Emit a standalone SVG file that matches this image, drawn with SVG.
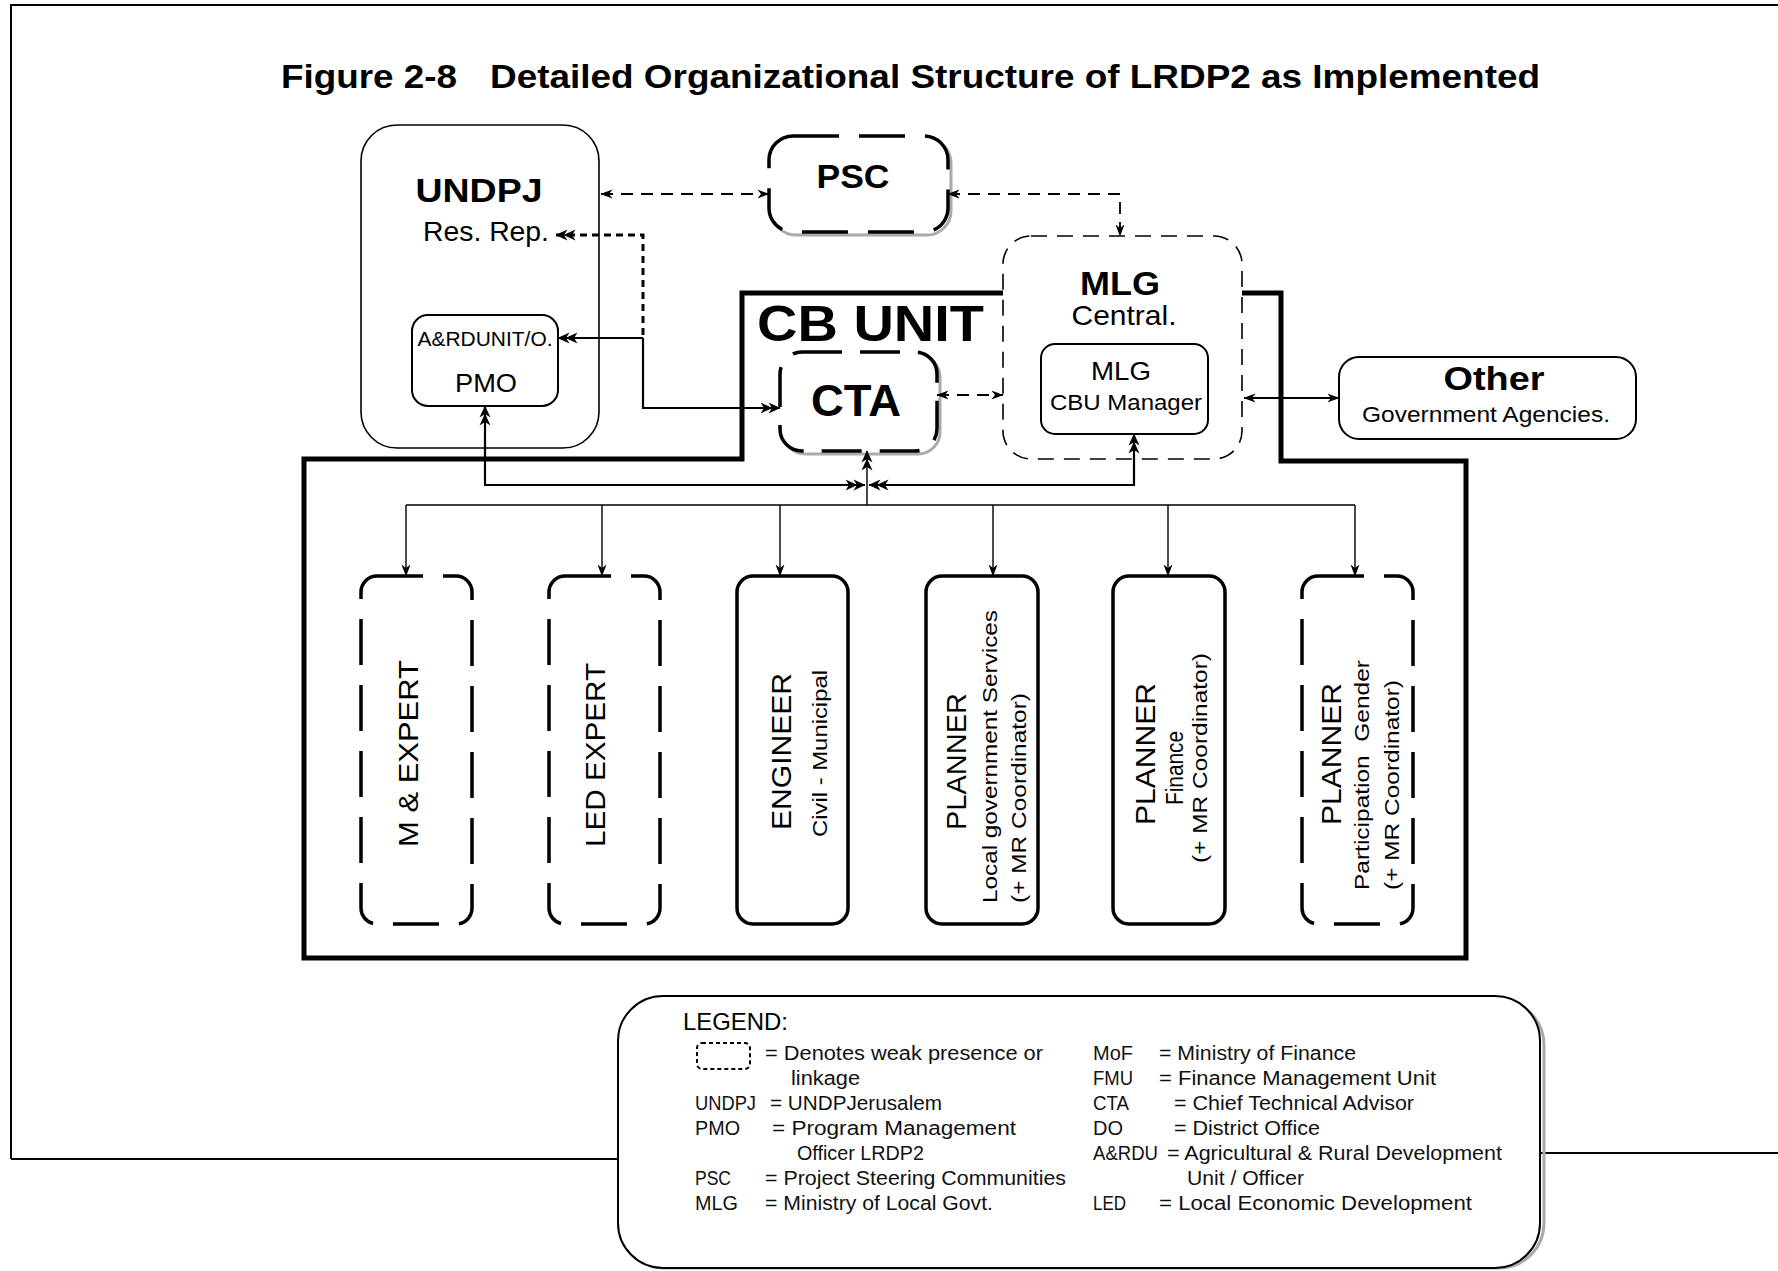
<svg xmlns="http://www.w3.org/2000/svg" width="1778" height="1271" viewBox="0 0 1778 1271">
<defs>
<style>
.b{font-family:"Liberation Sans",Arial,sans-serif;font-weight:bold;fill:#000}
.r{font-family:"Liberation Sans",Arial,sans-serif;fill:#000}
.lg{font-family:"Liberation Sans",Arial,sans-serif;font-size:20px;fill:#111}
.thin{fill:#fff;stroke:#000;stroke-width:1.6}
.solid{fill:#fff;stroke:#000;stroke-width:3.5}
.weak{fill:#fff;stroke:#000;stroke-width:3.5;stroke-dasharray:46 20}
.weakthin{fill:#fff;stroke:#000;stroke-width:1.6;stroke-dasharray:16 10}
.shadow{fill:none;stroke:#aaa;stroke-width:3}
.c{fill:none;stroke:#000;stroke-width:2.2}
.cd{fill:none;stroke:#000;stroke-width:1.8;stroke-dasharray:12 8}
.cdot{fill:none;stroke:#000;stroke-width:3;stroke-dasharray:7 5}
.cs{fill:none;stroke:#000;stroke-width:1.4}
</style>
<marker id="a1" viewBox="0 0 12 10" refX="11.5" refY="5" markerWidth="12" markerHeight="10" markerUnits="userSpaceOnUse" orient="auto-start-reverse">
<path d="M0,0.5 L12,5 L0,9.5 L3.5,5 z" fill="#000" stroke="none"/>
</marker>
<marker id="a2" viewBox="0 0 20 12" refX="19.5" refY="6" markerWidth="20" markerHeight="12" markerUnits="userSpaceOnUse" orient="auto-start-reverse">
<path d="M8,0.5 L20,6 L8,11.5 L11.5,6 z M0,0.5 L12,6 L0,11.5 L3.5,6 z" fill="#000" stroke="none"/>
</marker>
</defs>
<rect x="0" y="0" width="1778" height="1271" fill="#fff"/>

<g id="frame" fill="none" stroke="#000" stroke-width="2">
<path d="M11,1159 L11,5 L1778,5"/>
<path d="M11,1159 L618,1159"/>
<path d="M1540,1153 L1778,1153"/>
</g>

<g id="title">
<text class="b" x="281" y="88" font-size="33" textLength="176" lengthAdjust="spacingAndGlyphs">Figure 2-8</text>
<text class="b" x="490" y="88" font-size="33" textLength="1050" lengthAdjust="spacingAndGlyphs">Detailed Organizational Structure of LRDP2 as Implemented</text>
</g>

<g id="cbunit">
<path d="M1003,293 L742,293 L742,459 L304,459 L304,958 L1466,958 L1466,461 L1281,461 L1281,293 L1242,293" fill="none" stroke="#000" stroke-width="5"/>
<text class="b" x="757" y="341" font-size="50" textLength="227" lengthAdjust="spacingAndGlyphs">CB UNIT</text>
</g>

<g id="undpj">
<rect class="thin" x="361" y="125" width="238" height="323" rx="36"/>
<text class="b" x="479" y="202" font-size="33" text-anchor="middle" textLength="127" lengthAdjust="spacingAndGlyphs">UNDPJ</text>
<text class="r" x="423" y="241" font-size="28" textLength="126" lengthAdjust="spacingAndGlyphs">Res. Rep.</text>
</g>

<g id="pmo">
<rect x="412" y="315" width="146" height="91" rx="16" fill="#fff" stroke="#000" stroke-width="2"/>
<text class="r" x="485" y="346" font-size="21" text-anchor="middle" textLength="135" lengthAdjust="spacingAndGlyphs">A&amp;RDUNIT/O.</text>
<text class="r" x="486" y="392" font-size="25" text-anchor="middle" textLength="62" lengthAdjust="spacingAndGlyphs">PMO</text>
</g>

<g id="psc">
<rect class="shadow" x="772" y="139" width="179" height="96" rx="24"/>
<rect class="weak" x="769" y="136" width="179" height="96" rx="24"/>
<text class="b" x="853" y="188" font-size="33" text-anchor="middle" textLength="73" lengthAdjust="spacingAndGlyphs">PSC</text>
</g>

<g id="mlg">
<rect class="weakthin" x="1003" y="236" width="239" height="223" rx="28"/>
<text class="b" x="1120" y="295" font-size="33" text-anchor="middle" textLength="80" lengthAdjust="spacingAndGlyphs">MLG</text>
<text class="r" x="1124" y="325" font-size="28" text-anchor="middle" textLength="105" lengthAdjust="spacingAndGlyphs">Central.</text>
</g>

<g id="cbu">
<rect x="1041" y="344" width="167" height="90" rx="14" fill="#fff" stroke="#000" stroke-width="2"/>
<text class="r" x="1121" y="380" font-size="26" text-anchor="middle" textLength="60" lengthAdjust="spacingAndGlyphs">MLG</text>
<text class="r" x="1126" y="410" font-size="22" text-anchor="middle" textLength="152" lengthAdjust="spacingAndGlyphs">CBU Manager</text>
</g>

<g id="cta">
<rect class="shadow" x="783" y="355" width="157" height="99" rx="22"/>
<rect class="weak" x="780" y="352" width="157" height="99" rx="22" style="stroke-dasharray:40 18"/>
<text class="b" x="856" y="416" font-size="44" text-anchor="middle" textLength="90" lengthAdjust="spacingAndGlyphs">CTA</text>
</g>

<g id="other">
<rect x="1339" y="357" width="297" height="82" rx="20" fill="#fff" stroke="#000" stroke-width="2"/>
<text class="b" x="1494" y="390" font-size="34" text-anchor="middle" textLength="101" lengthAdjust="spacingAndGlyphs">Other</text>
<text class="r" x="1486" y="422" font-size="22" text-anchor="middle" textLength="248" lengthAdjust="spacingAndGlyphs">Government Agencies.</text>
</g>

<g id="connectors">
<path class="cd" d="M601,194 H769" marker-start="url(#a1)" marker-end="url(#a1)"/>
<path class="cd" d="M948,194 H1120 V236" marker-start="url(#a1)" marker-end="url(#a1)"/>
<path class="cdot" d="M556,235 H643 V338" marker-start="url(#a2)"/>
<path class="c" d="M643,338 H558" marker-end="url(#a2)"/>
<path class="c" d="M643,338 V408 H780" marker-end="url(#a2)"/>
<path class="cd" d="M937,395 H1003" marker-start="url(#a1)" marker-end="url(#a1)"/>
<path class="c" d="M1244,398 H1339" marker-start="url(#a1)" marker-end="url(#a1)"/>
<path class="c" d="M485,406 V485 H865" marker-start="url(#a2)" marker-end="url(#a2)"/>
<path class="c" d="M1134,434 V485 H869" marker-start="url(#a2)" marker-end="url(#a2)"/>
<path class="cs" d="M867,451 V505" marker-start="url(#a2)"/>
<path class="cs" d="M406,505 H1355"/>
<path class="cs" d="M406,505 V576" marker-end="url(#a1)"/>
<path class="cs" d="M602,505 V576" marker-end="url(#a1)"/>
<path class="cs" d="M780,505 V576" marker-end="url(#a1)"/>
<path class="cs" d="M993,505 V576" marker-end="url(#a1)"/>
<path class="cs" d="M1168,505 V576" marker-end="url(#a1)"/>
<path class="cs" d="M1355,505 V576" marker-end="url(#a1)"/>
</g>

<g id="mexpert">
<rect class="weak" x="361" y="576" width="111" height="348" rx="16"/>
<text class="r" transform="translate(418,847) rotate(-90)" font-size="28" textLength="187" lengthAdjust="spacingAndGlyphs">M &amp; EXPERT</text>
</g>
<g id="ledexpert">
<rect class="weak" x="549" y="576" width="111" height="348" rx="16"/>
<text class="r" transform="translate(605,847) rotate(-90)" font-size="28" textLength="184" lengthAdjust="spacingAndGlyphs">LED EXPERT</text>
</g>
<g id="engineer">
<rect class="solid" x="737" y="576" width="111" height="348" rx="16"/>
<text class="r" transform="translate(791,830) rotate(-90)" font-size="28" textLength="157" lengthAdjust="spacingAndGlyphs">ENGINEER</text>
<text class="r" transform="translate(827,837) rotate(-90)" font-size="21" textLength="167" lengthAdjust="spacingAndGlyphs">Civil - Municipal</text>
</g>
<g id="planner-lgs">
<rect class="solid" x="926" y="576" width="112" height="348" rx="16"/>
<text class="r" transform="translate(966,830) rotate(-90)" font-size="28" textLength="137" lengthAdjust="spacingAndGlyphs">PLANNER</text>
<text class="r" transform="translate(997,903) rotate(-90)" font-size="21" textLength="293" lengthAdjust="spacingAndGlyphs">Local government Services</text>
<text class="r" transform="translate(1026,903) rotate(-90)" font-size="21" textLength="210" lengthAdjust="spacingAndGlyphs">(+ MR Coordinator)</text>
</g>
<g id="planner-fin">
<rect class="solid" x="1113" y="576" width="112" height="348" rx="16"/>
<text class="r" transform="translate(1155,825) rotate(-90)" font-size="28" textLength="142" lengthAdjust="spacingAndGlyphs">PLANNER</text>
<text class="r" transform="translate(1183,805) rotate(-90)" font-size="23" textLength="74" lengthAdjust="spacingAndGlyphs">Finance</text>
<text class="r" transform="translate(1207,863) rotate(-90)" font-size="21" textLength="210" lengthAdjust="spacingAndGlyphs">(+ MR Coordinator)</text>
</g>
<g id="planner-part">
<rect class="weak" x="1302" y="576" width="111" height="348" rx="16"/>
<text class="r" transform="translate(1341,825) rotate(-90)" font-size="28" textLength="142" lengthAdjust="spacingAndGlyphs">PLANNER</text>
<text class="r" transform="translate(1369,890) rotate(-90)" font-size="21" textLength="230" lengthAdjust="spacingAndGlyphs" xml:space="preserve">Participation  Gender</text>
<text class="r" transform="translate(1399,890) rotate(-90)" font-size="21" textLength="210" lengthAdjust="spacingAndGlyphs">(+ MR Coordinator)</text>
</g>

<g id="legend">
<rect class="shadow" x="622" y="1000" width="922" height="268" rx="45"/>
<rect x="618" y="996" width="922" height="272" rx="45" fill="#fff" stroke="#000" stroke-width="2"/>
<text class="r" x="683" y="1030" font-size="24" textLength="105" lengthAdjust="spacingAndGlyphs">LEGEND:</text>
<rect x="697" y="1043" width="53" height="26" rx="5" fill="none" stroke="#000" stroke-width="2" stroke-dasharray="4 3"/>
<text class="lg" x="765" y="1060" textLength="278" lengthAdjust="spacingAndGlyphs">= Denotes weak presence or</text>
<text class="lg" x="791" y="1085" textLength="69" lengthAdjust="spacingAndGlyphs">linkage</text>
<text class="lg" x="695" y="1110" textLength="61" lengthAdjust="spacingAndGlyphs">UNDPJ</text>
<text class="lg" x="770" y="1110" textLength="172" lengthAdjust="spacingAndGlyphs">= UNDPJerusalem</text>
<text class="lg" x="695" y="1135" textLength="45" lengthAdjust="spacingAndGlyphs">PMO</text>
<text class="lg" x="772" y="1135" textLength="244" lengthAdjust="spacingAndGlyphs">= Program Management</text>
<text class="lg" x="797" y="1160" textLength="127" lengthAdjust="spacingAndGlyphs">Officer LRDP2</text>
<text class="lg" x="695" y="1185" textLength="36" lengthAdjust="spacingAndGlyphs">PSC</text>
<text class="lg" x="765" y="1185" textLength="301" lengthAdjust="spacingAndGlyphs">= Project Steering Communities</text>
<text class="lg" x="695" y="1210" textLength="43" lengthAdjust="spacingAndGlyphs">MLG</text>
<text class="lg" x="765" y="1210" textLength="228" lengthAdjust="spacingAndGlyphs">= Ministry of Local Govt.</text>
<text class="lg" x="1093" y="1060" textLength="40" lengthAdjust="spacingAndGlyphs">MoF</text>
<text class="lg" x="1159" y="1060" textLength="197" lengthAdjust="spacingAndGlyphs">= Ministry of Finance</text>
<text class="lg" x="1093" y="1085" textLength="40" lengthAdjust="spacingAndGlyphs">FMU</text>
<text class="lg" x="1159" y="1085" textLength="277" lengthAdjust="spacingAndGlyphs">= Finance Management Unit</text>
<text class="lg" x="1093" y="1110" textLength="36" lengthAdjust="spacingAndGlyphs">CTA</text>
<text class="lg" x="1174" y="1110" textLength="240" lengthAdjust="spacingAndGlyphs">= Chief Technical Advisor</text>
<text class="lg" x="1093" y="1135" textLength="30" lengthAdjust="spacingAndGlyphs">DO</text>
<text class="lg" x="1174" y="1135" textLength="146" lengthAdjust="spacingAndGlyphs">= District Office</text>
<text class="lg" x="1093" y="1160" textLength="65" lengthAdjust="spacingAndGlyphs">A&amp;RDU</text>
<text class="lg" x="1167" y="1160" textLength="335" lengthAdjust="spacingAndGlyphs">= Agricultural &amp; Rural Development</text>
<text class="lg" x="1187" y="1185" textLength="117" lengthAdjust="spacingAndGlyphs">Unit / Officer</text>
<text class="lg" x="1093" y="1210" textLength="33" lengthAdjust="spacingAndGlyphs">LED</text>
<text class="lg" x="1159" y="1210" textLength="313" lengthAdjust="spacingAndGlyphs">= Local Economic Development</text>
</g>
</svg>
